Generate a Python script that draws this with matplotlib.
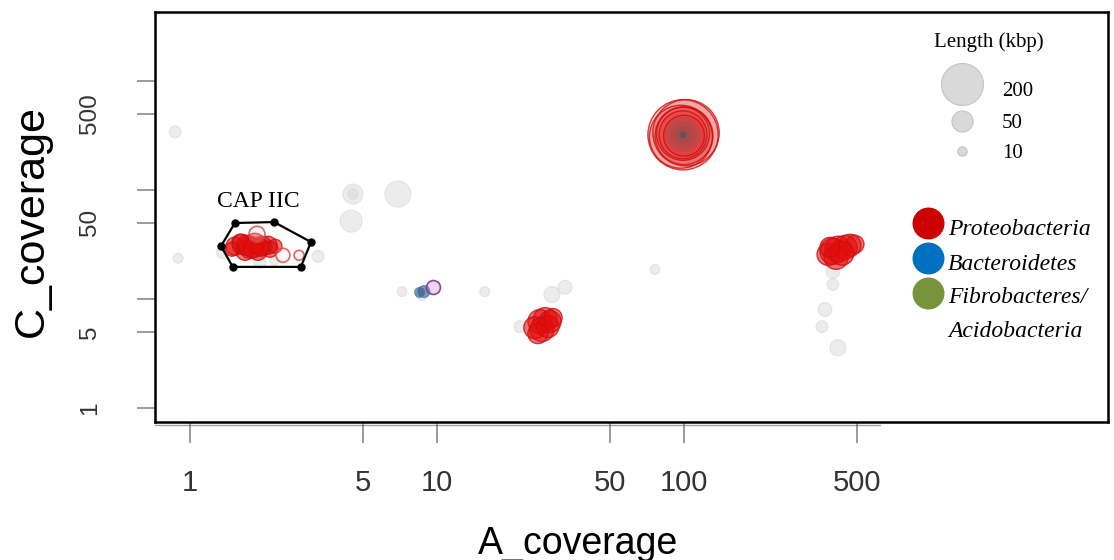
import numpy as np
import matplotlib
matplotlib.use("Agg")
import matplotlib.pyplot as plt
from matplotlib.lines import Line2D

# ---------------- data (A_coverage, C_coverage, contig length in kbp) ----------------
grey_x = [0.87, 0.894, 4.57, 6.95, 4.49, 7.22, 15.6, 8.7, 76.3, 29.2, 33.0, 21.7,
          401, 401, 372, 362, 420, 1.35, 1.92, 3.30, 2.2, 4.57]
grey_y = [342, 23.6, 91.8, 91.8, 51.8, 11.7, 11.7, 11.0, 18.7, 11.0, 12.8, 5.58,
          17.9, 13.6, 8.0, 5.58, 3.57, 26.8, 21.7, 24.6, 22.5, 91.8]
grey_len = [16, 11, 45, 77, 55, 11, 11, 16, 11, 29, 22, 16,
            22, 16, 22, 16, 29, 16, 16, 16, 11, 12]

proteo_x = [1.521, 1.624, 1.749, 1.833, 1.956, 2.069, 1.670, 1.885, 1.594, 2.108, 2.209, 1.479,
            1.70, 1.80, 1.92,
            99.1, 101.9, 97.2, 100, 99.1, 99.1, 100,
            401, 420, 449, 470, 492, 383, 413, 436, 390,
            26.1, 27.4, 28.7, 24.9, 26.6, 28.1, 25.6, 29.5]
proteo_y = [30.5, 31.8, 29.8, 32.5, 30.5, 31.1, 27.4, 27.4, 33.2, 28.6, 30.5, 28.6,
            31.0, 29.5, 30.0,
            321, 335, 308, 315, 328, 321, 315,
            27.4, 28.6, 29.8, 31.1, 31.8, 25.7, 24.1, 26.3, 29.8,
            6.21, 6.47, 6.21, 5.46, 5.24, 5.58, 4.81, 6.75]
proteo_len = [37, 45, 55, 45, 45, 37, 37, 37, 29, 29, 22, 22,
              45, 45, 37,
              560, 500, 450, 380, 320, 260, 190,
              77, 77, 65, 55, 37, 55, 65, 65, 45,
              65, 65, 55, 55, 65, 55, 45, 37]

proteo_open_x = [1.867, 2.379, 2.763]
proteo_open_y = [39.3, 25.2, 25.2]
proteo_open_len = [29, 22, 11]

center_x = [99.1, 99.1, 99.1, 99.1, 99.1]
center_y = [321, 321, 321, 321, 321]
center_len = [130, 80, 40, 15, 5]

bact_x = [8.86, 8.5]
bact_y = [11.7, 11.5]
bact_len = [16, 11]

other_x = [9.63]
other_y = [12.8]
other_len = [22]

cap_x = [1.52, 2.19, 3.09, 2.81, 1.49, 1.335]
cap_y = [49.8, 50.8, 33.3, 19.7, 19.7, 30.6]

xticks = [1, 5, 10, 50, 100, 500]
xtick_labels = ["1", "5", "10", "50", "100", "500"]
yticks = [1, 5, 10, 50, 100, 500, 1000]
ytick_labels = ["1", "5", "", "50", "", "500", ""]

legend_sizes = [200, 50, 10]
legend_groups = ["Proteobacteria", "Bacteroidetes", "Fibrobacteres/"]
legend_colors = ["#cc0000", "#0070c0", "#77933c"]

# ---------------- figure ----------------
W, H = 1114, 560
fig = plt.figure(figsize=(W / 100, H / 100), dpi=100)
ax = fig.add_axes([155 / W, 1 - 422 / H, (1108 - 155) / W, (422 - 12) / H])
ax.set_xscale("log")
ax.set_yscale("log")
ax.set_xlim(10 ** ((155 - 190) / 247), 10 ** ((1108 - 190) / 247))
ax.set_ylim(10 ** ((408 - 422) / 109), 10 ** ((408 - 12) / 109))


def size(lengths):
    return 4.57 * np.asarray(lengths, dtype=float)


ax.scatter(grey_x, grey_y, s=size(grey_len), facecolor="#dadada", edgecolor="#d2d2d2",
           alpha=0.5, linewidths=0.8, zorder=2)

plen = np.asarray(proteo_len, dtype=float)
face = np.zeros((len(plen), 4))
face[:, :3] = (0.89, 0.05, 0.05)
face[:, 3] = np.where(plen > 150, 0.2, 0.55)
ax.scatter(proteo_x, proteo_y, s=size(proteo_len), facecolor=face,
           edgecolor=(0.80, 0.05, 0.05, 0.8), linewidths=1.0, zorder=3)
ax.scatter(proteo_open_x, proteo_open_y, s=size(proteo_open_len), facecolor=(1, 0.85, 0.85, 0.25),
           edgecolor=(0.85, 0.25, 0.25, 0.8), linewidths=1.2, zorder=3)

clen = np.asarray(center_len, dtype=float)
cface = np.zeros((len(clen), 4))
cface[:, :3] = (0.35, 0.33, 0.33)
cface[:, 3] = np.where(clen < 10, 0.9, 0.12)
ax.scatter(center_x, center_y, s=size(center_len), facecolor=cface,
           edgecolor=(0.45, 0.4, 0.4, 0.45), linewidths=0.8, zorder=4)
ax.scatter(bact_x, bact_y, s=size(bact_len), facecolor=(0.2, 0.35, 0.5, 0.6),
           edgecolor=(0.2, 0.45, 0.7, 0.7), linewidths=0.8, zorder=4)
ax.scatter(other_x, other_y, s=size(other_len), facecolor=(0.7, 0.5, 0.8, 0.3),
           edgecolor=(0.5, 0.2, 0.6, 0.9), linewidths=1.2, zorder=4)

# CAP IIC hull
ax.plot(cap_x + cap_x[:1], cap_y + cap_y[:1], color="black", lw=1.6, zorder=5)
ax.plot(cap_x, cap_y, "o", color="black", ms=5, zorder=6)
ax.text(1.885, 69.8, "CAP IIC", family="Liberation Serif", fontsize=17,
        ha="center", va="baseline", zorder=6)

# axes styling
for sp in ax.spines.values():
    sp.set_linewidth(1.8)
    sp.set_color("black")
ax.set_xticks(xticks)
ax.set_xticklabels(xtick_labels)
ax.set_yticks(yticks)
ax.set_yticklabels(ytick_labels)
ax.minorticks_off()
ax.tick_params(axis="x", length=15, width=1.1, color="#808080", pad=19,
               labelsize=21, labelcolor="#333333")
ax.tick_params(axis="y", length=13, width=1.1, color="#808080", pad=26,
               labelsize=17.5, labelcolor="#333333", labelrotation=90)
for lab in ax.get_xticklabels() + ax.get_yticklabels():
    lab.set_family("Liberation Sans")
for lab in ax.get_yticklabels():
    lab.set_verticalalignment("center")

# faint R-style axis line under the frame
fig.add_artist(Line2D([155 / W, 880 / W], [1 - 424.5 / H, 1 - 424.5 / H],
                      color="#666666", lw=1.0, alpha=0.6))

# axis titles
fig.text(578 / W, 1 - 554 / H, "A_coverage", family="Liberation Sans", fontsize=27,
         ha="center", va="baseline")
fig.text(12 / W, 1 - 221 / H, "C_coverage", family="Liberation Sans", fontsize=31,
         rotation=90, ha="left", va="center")

# size legend
fig.text(989 / W, 1 - 47 / H, "Length (kbp)", family="Liberation Serif", fontsize=15,
         ha="center", va="baseline")
leg_y = [84, 121, 151]
lab_y = [96, 128, 158]
for L, yy, ly in zip(legend_sizes, leg_y, lab_y):
    d = 2 * 0.72 * 21 * np.sqrt(L / 200)
    fig.add_artist(Line2D([962 / W], [1 - yy / H], marker="o", ms=d, linestyle="none",
                          markerfacecolor="#d9d9d9", markeredgecolor="#c4c4c4", markeredgewidth=0.8))
    fig.text(1002 / W, 1 - ly / H, str(L), family="Liberation Serif", fontsize=15,
             ha="left", va="baseline")

# colour legend
col_y = [223, 258, 293]
txt_y = [235, 270, 303]
for name, c, yy, ty in zip(legend_groups, legend_colors, col_y, txt_y):
    fig.add_artist(Line2D([928 / W], [1 - yy / H], marker="o", ms=22, linestyle="none",
                          markerfacecolor=c, markeredgecolor=c))
    fig.text(948 / W, 1 - ty / H, name, family="Liberation Serif", style="italic",
             fontsize=17, ha="left", va="baseline")
fig.text(948 / W, 1 - 337 / H, "Acidobacteria", family="Liberation Serif", style="italic",
         fontsize=17, ha="left", va="baseline")

fig.savefig("out.png", dpi=100)
